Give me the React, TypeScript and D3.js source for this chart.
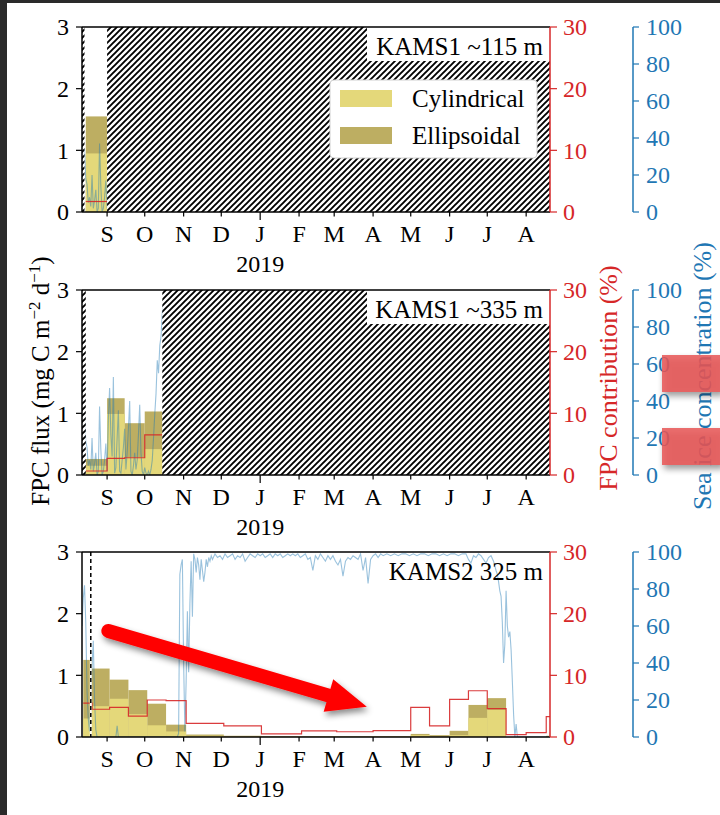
import React from "react";
import * as d3 from "d3";

// ---------- tick labels ----------
const monthLabels = ["S", "O", "N", "D", "J", "F", "M", "A", "M", "J", "J", "A"];
const fluxTicks = [0, 1, 2, 3];
const contribTicks = [0, 10, 20, 30];
const iceTicks = [0, 20, 40, 60, 80, 100];
const yearLabel = "2019";
const panelNames = ["KAMS1 ~115 m", "KAMS1 ~335 m", "KAMS2 325 m"];
const legendNames = ["Cylindrical", "Ellipsoidal"];

// ---------- panel 1: KAMS1 ~115 m ----------
const p1Periods = ["2018-08-15", "2018-09-01"];
const p1Cyl = [0.95];
const p1Total = [1.55];
const p1Contrib = [1.7];
const p1Gaps = [["2018-08-12", "2018-08-14"], ["2018-09-01", "2019-08-20"]];

// ---------- panel 2: KAMS1 ~335 m ----------
const p2Periods = ["2018-08-15", "2018-09-01", "2018-09-15", "2018-10-01", "2018-10-15"];
const p2Cyl = [0.15, 0.99, 0.29, 0.42];
const p2Total = [0.26, 1.245, 0.84, 1.03];
const p2Contrib = [0.65, 2.7, 2.8, 6.5];
const p2Gaps = [["2018-08-12", "2018-08-15"], ["2018-10-15", "2019-08-20"]];

// ---------- panel 3: KAMS2 325 m ----------
const p3Periods = [
  "2018-08-13", "2018-08-20", "2018-09-03", "2018-09-18", "2018-10-03", "2018-10-18",
  "2018-11-03", "2018-12-03", "2019-01-02", "2019-02-03", "2019-03-03", "2019-04-01",
  "2019-05-01", "2019-05-16", "2019-06-01", "2019-06-16", "2019-07-01", "2019-07-16",
  "2019-08-01", "2019-08-17", "2019-08-20",
];
const p3Total = [1.25, 1.11, 0.93, 0.76, 0.54, 0.2, 0.04, 0.02, 0.01, 0.01, 0.01, 0.01, 0.05, 0.03, 0.1, 0.52, 0.63, 0, 0, 0.02];
const p3Cyl = [0.3, 0.5, 0.62, 0.37, 0.19, 0.09, 0.02, 0.01, 0.005, 0.005, 0.005, 0.005, 0.03, 0.01, 0.03, 0.31, 0.44, 0, 0, 0.01];
const p3Contrib = [5.5, 4.5, 4.8, 3.4, 6.0, 5.9, 2.2, 1.8, 0.5, 1.0, 0.85, 1.05, 4.8, 1.8, 6.1, 7.5, 4.6, 0.4, 0.7, 3.3];
const p3Marker = "2018-08-19";

// ---------- sea ice concentration (%) ----------
// KAMS1: daily from 2018-08-12
const kams1IceStart = "2018-08-12";
const kams1Ice = [
  36, 35, 33, 18, 15, 5, 8, 3, 20, 2, 6, 12, 0, 2, 37, 14, 0, 2, 8, 17,
  2, 30, 47, 22, 10, 53, 1, 4, 20, 35, 2, 1, 8, 15, 25, 3, 12, 25, 40, 2, 0, 5, 12, 3, 8, 22, 38, 12, 2, 0,
  4, 1, 0, 2, 0, 3, 8, 20, 33, 44, 62, 55, 70, 75, 88, 92,
];
// KAMS2: [day since 2018-08-12, %]
const kams2IceStart = "2018-08-12";
const kams2Ice = [
  [0, 60], [1, 75], [2, 82], [3, 62], [4, 25], [5, 10], [6, 3], [7, 20], [8, 38], [9, 52], [10, 20], [11, 4], [12, 0],
  [20, 0], [27, 0], [28, 6], [29, 0], [76, 0], [77, 2], [78, 88], [79, 93], [80, 96], [81, 40], [82, 3], [83, 30],
  [84, 68], [85, 35], [86, 72], [87, 95], [88, 65], [89, 99], [90, 96], [91, 89], [92, 97], [93, 93], [94, 85],
  [95, 96], [96, 90], [97, 84], [98, 89], [99, 96], [100, 92], [101, 97], [102, 95], [103, 98], [104, 96],
  [106, 99], [108, 97], [110, 98], [112, 96], [114, 99], [116, 97], [118, 98], [120, 99], [122, 96], [124, 98],
  [126, 97], [128, 99], [130, 95], [132, 97], [134, 99], [136, 98], [138, 97], [140, 99], [142, 98], [144, 99],
  [146, 97], [148, 98], [150, 99], [152, 97], [154, 99], [156, 98], [158, 99], [160, 97], [162, 98], [164, 99],
  [166, 98], [168, 99], [170, 98], [172, 99], [174, 97], [176, 98], [178, 99], [180, 96], [182, 97], [184, 90],
  [186, 98], [188, 96], [190, 99], [192, 97], [194, 95], [196, 98], [198, 96], [200, 98], [202, 95], [204, 93],
  [206, 96], [208, 87], [210, 95], [212, 97], [214, 96], [216, 98], [218, 97], [220, 96], [222, 99], [224, 90],
  [226, 97], [228, 83], [230, 96], [232, 98], [234, 99], [236, 97], [238, 99], [240, 98], [243, 99], [246, 98],
  [249, 99], [252, 98], [255, 99], [258, 99], [261, 98], [264, 99], [267, 98], [270, 99], [273, 99], [276, 98],
  [279, 99], [282, 99], [285, 98], [288, 99], [291, 98], [294, 99], [297, 99], [300, 98], [303, 99], [306, 99],
  [308, 96], [310, 94], [312, 98], [314, 97], [316, 99], [318, 98], [320, 96], [322, 94], [324, 97], [326, 98],
  [328, 95], [330, 90], [331, 88], [332, 84], [333, 79], [334, 76], [335, 62], [336, 40], [337, 50], [338, 79],
  [339, 60], [340, 54], [341, 57], [342, 47], [343, 30], [344, 12], [345, 0], [346, 7], [347, 0], [373, 0],
];

// annotation arrow (panel 3 data space)
const arrowStart = { date: "2018-09-02", flux: 1.72 };
const arrowTip = { date: "2019-03-27", flux: 0.49 };

// ---------- styles ----------
const FONT = "'Liberation Serif', 'DejaVu Serif', serif";
const RED = "#d62728";
const BLUE = "#1f77b4";
const CYL = "#e4d87a";
const ELL = "#bdae62";

const parse = d3.timeParse("%Y-%m-%d");
const P = (s: string) => parse(s) as Date;

const START = P("2018-08-12");
const END = P("2019-08-20");

const LEFT = 82;
const RIGHT = 550;
const TOPS = [27, 290, 552];
const PH = 185;

export default function App() {
  const x = d3.scaleTime().domain([START, END]).range([LEFT, RIGHT]);
  const months = d3.timeMonth.range(P("2018-09-01"), P("2019-08-02"));

  const panels = [
    { periods: p1Periods, cyl: p1Cyl, total: p1Total, contrib: p1Contrib, gaps: p1Gaps, ice: "k1" },
    { periods: p2Periods, cyl: p2Cyl, total: p2Total, contrib: p2Contrib, gaps: p2Gaps, ice: "k1" },
    { periods: p3Periods, cyl: p3Cyl, total: p3Total, contrib: p3Contrib, gaps: [] as string[][], ice: "k2" },
  ];

  const k1Pts: [Date, number][] = kams1Ice.map((v, i) => [d3.timeDay.offset(P(kams1IceStart), i), v]);
  const k2Pts: [Date, number][] = kams2Ice.map(([d, v]) => [d3.timeDay.offset(P(kams2IceStart), d), v]);

  return (
    <div style={{ position: "absolute", left: 0, top: 0 }}>
      <svg width={720} height={815} style={{ display: "block", background: "white" }} fontFamily={FONT}>
        <defs>
          <pattern id="hatch" patternUnits="userSpaceOnUse" width="6" height="6">
            <rect width="6" height="6" fill="white" />
            <path d="M0,6 L6,0 M-1.5,1.5 L1.5,-1.5 M4.5,7.5 L7.5,4.5" stroke="black" strokeWidth="1.9" />
          </pattern>
          {TOPS.map((t, i) => (
            <clipPath id={`clip${i}`} key={i}>
              <rect x={LEFT} y={t} width={RIGHT - LEFT} height={PH} />
            </clipPath>
          ))}
          <filter id="shadow" x="-20%" y="-30%" width="150%" height="180%">
            <feDropShadow dx="2" dy="4" stdDeviation="3" floodColor="#000" floodOpacity="0.45" />
          </filter>
        </defs>

        {panels.map((pn, pi) => {
          const top = TOPS[pi];
          const bottom = top + PH;
          const y = d3.scaleLinear().domain([0, 3]).range([bottom, top]);
          const yR = d3.scaleLinear().domain([0, 30]).range([bottom, top]);
          const yB = d3.scaleLinear().domain([0, 100]).range([bottom, top]);
          const per = pn.periods.map(P);
          const icePts = pn.ice === "k1" ? k1Pts : k2Pts;
          const iceLine = d3
            .line<[Date, number]>()
            .x((d) => x(d[0]))
            .y((d) => yB(d[1]))(icePts);
          const stepPts: [number, number][] = pn.contrib.map((v, i) => [x(per[i]), yR(v)]);
          stepPts.push([x(per[per.length - 1]), yR(pn.contrib[pn.contrib.length - 1])]);
          const stepLine = d3.line().curve(d3.curveStepAfter)(stepPts);

          return (
            <g key={pi}>
              <g clipPath={`url(#clip${pi})`}>
                {pn.total.map((v, i) => (
                  <rect key={"e" + i} x={x(per[i])} width={x(per[i + 1]) - x(per[i])} y={y(v)} height={y(0) - y(v)} fill={ELL} />
                ))}
                {pn.cyl.map((v, i) => (
                  <rect key={"c" + i} x={x(per[i])} width={x(per[i + 1]) - x(per[i])} y={y(v)} height={y(0) - y(v)} fill={CYL} />
                ))}
                <path d={iceLine || ""} fill="none" stroke={BLUE} strokeOpacity={0.45} strokeWidth={1.1} />
                <path d={stepLine || ""} fill="none" stroke={RED} strokeOpacity={0.9} strokeWidth={1.2} />
                {pn.gaps.map((g, i) => (
                  <rect key={"h" + i} x={x(P(g[0]))} width={x(P(g[1])) - x(P(g[0]))} y={top} height={PH} fill="url(#hatch)" />
                ))}
                {pi === 2 && (
                  <g>
                    <line x1={x(P(p3Marker))} x2={x(P(p3Marker))} y1={top} y2={bottom} stroke="white" strokeWidth={2} />
                    <line x1={x(P(p3Marker))} x2={x(P(p3Marker))} y1={top} y2={bottom} stroke="black" strokeWidth={1.5} strokeDasharray="4,3" />
                  </g>
                )}
              </g>

              {/* panel label */}
              {pi < 2 && <rect x={367} y={top} width={RIGHT - 367} height={34} fill="white" />}
              <text x={543} y={top + 28} textAnchor="end" fontSize={25} fill="black">
                {panelNames[pi]}
              </text>

              {/* spines */}
              <line x1={LEFT} x2={RIGHT} y1={top} y2={top} stroke="black" strokeWidth={1.5} />
              <line x1={LEFT} x2={RIGHT} y1={bottom} y2={bottom} stroke="black" strokeWidth={1.5} />
              <line x1={LEFT} x2={LEFT} y1={top} y2={bottom} stroke="black" strokeWidth={1.5} />
              <line x1={RIGHT} x2={RIGHT} y1={top} y2={bottom} stroke={RED} strokeWidth={1.5} />
              <line x1={633} x2={633} y1={top} y2={bottom} stroke={BLUE} strokeWidth={1.5} />

              {/* left ticks */}
              {fluxTicks.map((t) => (
                <g key={"l" + t}>
                  <line x1={LEFT - 6} x2={LEFT} y1={y(t)} y2={y(t)} stroke="black" strokeWidth={1.2} />
                  <text x={LEFT - 13} y={y(t)} dy="0.35em" textAnchor="end" fontSize={24}>{t}</text>
                </g>
              ))}
              {/* red ticks */}
              {contribTicks.map((t) => (
                <g key={"r" + t}>
                  <line x1={RIGHT} x2={RIGHT + 7} y1={yR(t)} y2={yR(t)} stroke={RED} strokeWidth={1.2} />
                  <text x={RIGHT + 13} y={yR(t)} dy="0.35em" fontSize={24} fill={RED}>{t}</text>
                </g>
              ))}
              {/* blue ticks */}
              {iceTicks.map((t) => (
                <g key={"b" + t}>
                  <line x1={633} x2={639} y1={yB(t)} y2={yB(t)} stroke={BLUE} strokeWidth={1.2} />
                  <text x={646} y={yB(t)} dy="0.35em" fontSize={24} fill={BLUE}>{t}</text>
                </g>
              ))}
              {/* month ticks */}
              {months.map((m, i) => (
                <g key={"m" + i}>
                  <line x1={x(m)} x2={x(m)} y1={bottom} y2={bottom + (m.getMonth() === 0 ? 8 : 4.5)} stroke="black" strokeWidth={1.2} />
                  <text x={x(m)} y={bottom + 30} textAnchor="middle" fontSize={24}>{monthLabels[i]}</text>
                </g>
              ))}
              <text x={x(P("2019-01-01"))} y={bottom + 60} textAnchor="middle" fontSize={24}>{yearLabel}</text>
            </g>
          );
        })}

        {/* legend (panel 1) */}
        <g>
          <rect x={330} y={80} width={207} height={78} rx={4} fill="white" stroke="#d0d0d0" strokeWidth={1} />
          <rect x={340} y={90} width={52} height={17} fill={CYL} />
          <rect x={340} y={127} width={52} height={17} fill={ELL} />
          <text x={412} y={107} fontSize={25}>{legendNames[0]}</text>
          <text x={412} y={144} fontSize={25}>{legendNames[1]}</text>
        </g>

        {/* axis labels */}
        <text transform="translate(49,381) rotate(-90)" textAnchor="middle" fontSize={25}>
          FPC flux (mg C m
          <tspan dy="-9" fontSize={17}>−2</tspan>
          <tspan dy="9"> d</tspan>
          <tspan dy="-9" fontSize={17}>−1</tspan>
          <tspan dy="9">)</tspan>
        </text>
        <text transform="translate(617,378) rotate(-90)" textAnchor="middle" fontSize={26} fill={RED}>
          FPC contribution (%)
        </text>
        <text transform="translate(711,376) rotate(-90)" textAnchor="middle" fontSize={26} fill={BLUE}>
          Sea ice concentration (%)
        </text>

        {/* annotation overlays */}
        {(() => {
          const y3 = d3.scaleLinear().domain([0, 3]).range([TOPS[2] + PH, TOPS[2]]);
          const sx = x(P(arrowStart.date));
          const sy = y3(arrowStart.flux);
          const tx = x(P(arrowTip.date));
          const ty = y3(arrowTip.flux);
          const dx = tx - sx;
          const dy = ty - sy;
          const len = Math.hypot(dx, dy);
          const ux = dx / len;
          const uy = dy / len;
          const bx = tx - 40 * ux;
          const by = ty - 40 * uy;
          const nx = -uy;
          const ny = ux;
          return (
            <g filter="url(#shadow)">
              <line x1={sx} y1={sy} x2={bx + 4 * ux} y2={by + 4 * uy} stroke="#ff0000" strokeWidth={14} strokeLinecap="round" />
              <polygon
                points={`${tx},${ty} ${bx + 17 * nx},${by + 17 * ny} ${bx - 17 * nx},${by - 17 * ny}`}
                fill="#ff0000"
              />
            </g>
          );
        })()}
        <g filter="url(#shadow)">
          <rect x={662} y={355} width={60} height={37} fill="rgb(232,86,86)" fillOpacity={0.85} />
          <rect x={662} y={428} width={60} height={37} fill="rgb(232,86,86)" fillOpacity={0.85} />
        </g>

        {/* screenshot frame */}
        <rect x={0} y={0} width={7} height={815} fill="#2a2a2a" />
        <rect x={0} y={0} width={720} height={3} fill="#2a2a2a" />
      </svg>
    </div>
  );
}
